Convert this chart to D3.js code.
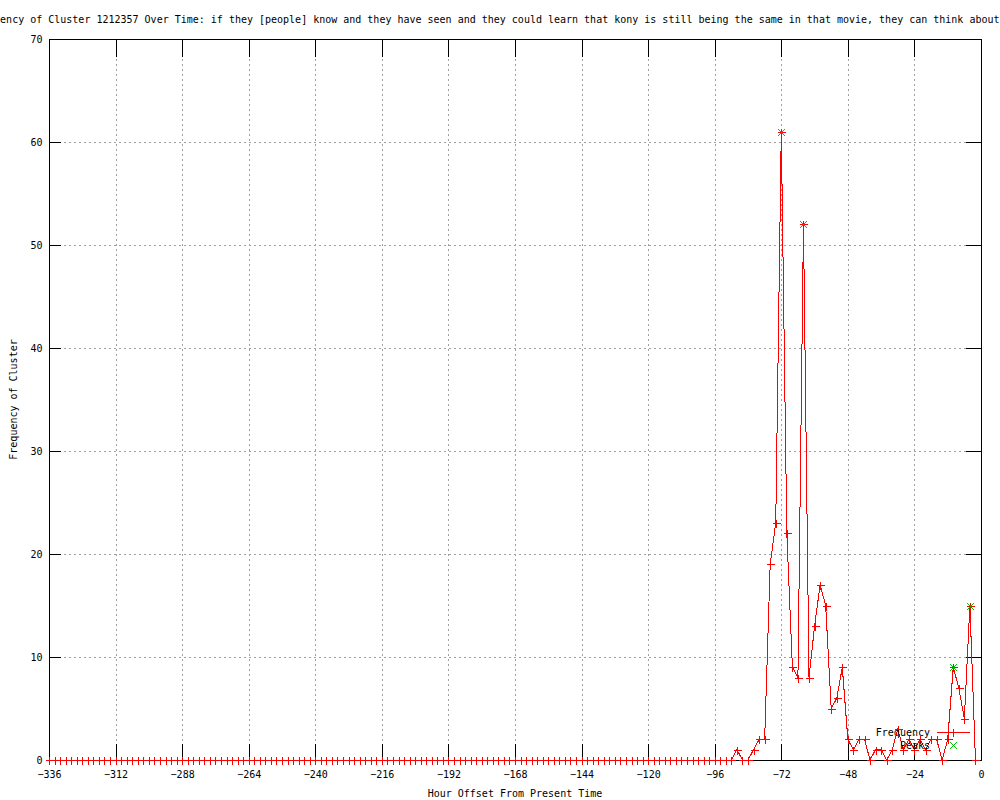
<!DOCTYPE html>
<html>
<head>
<meta charset="utf-8">
<script src="https://cdn.jsdelivr.net/npm/d3@7"></script>
<style>
  body { margin: 0; background: #fff; }
  svg { display: block; }
  text { font-family: "DejaVu Sans Mono", "Liberation Mono", monospace; font-size: 10px; fill: #000; }
</style>
</head>
<body>
<div id="chart"></div>
<script>
const titleText = "Frequency of Cluster 1212357 Over Time: if they [people] know and they have seen and they could learn that kony is still being the same in that movie, they can think about";

// counts every 2 hours, from -336 up to -2
const freqValues = [
  0,0,0,0,0,0,0,0,0,0,0,0,0,0,0,0,0,0,0,0,
  0,0,0,0,0,0,0,0,0,0,0,0,0,0,0,0,0,0,0,0,
  0,0,0,0,0,0,0,0,0,0,0,0,0,0,0,0,0,0,0,0,
  0,0,0,0,0,0,0,0,0,0,0,0,0,0,0,0,0,0,0,0,
  0,0,0,0,0,0,0,0,0,0,0,0,0,0,0,0,0,0,0,0,
  0,0,0,0,0,0,0,0,0,0,0,0,0,0,0,0,0,0,0,0,
  0,0,0,0,
  1,0,0,1,2,2,19,23,61,22,9,8,52,8,13,17,15,5,6,9,
  2,1,2,2,0,1,1,0,1,3,1,2,1,2,1,2,2,0,2,9,
  7,4,15,0
];
const hours = d3.range(-336, 0, 2);

const peakHours = [-72, -64, -10, -4];
const peakValues = [61, 52, 9, 15];

const xTicks = [-336, -312, -288, -264, -240, -216, -192, -168, -144, -120, -96, -72, -48, -24, 0];
const yTicks = [0, 10, 20, 30, 40, 50, 60, 70];

const W = 1000, H = 800;
const mLeft = 49, mRight = 981, mTop = 39, mBottom = 760;

const svg = d3.select('#chart').append('svg')
  .attr('width', W)
  .attr('height', H);

const x = d3.scaleLinear().domain([-336, 0]).range([mLeft, mRight]);
const y = d3.scaleLinear().domain([0, 70]).range([mBottom, mTop]);

// grid
const grid = svg.append('g')
  .attr('stroke', '#a0a0a0')
  .attr('stroke-dasharray', '2,3')
  .attr('shape-rendering', 'crispEdges');
grid.selectAll('line.gx')
  .data(xTicks.filter(d => d > -336 && d < 0))
  .enter().append('line')
  .attr('x1', d => Math.round(x(d)) + 0.5).attr('x2', d => Math.round(x(d)) + 0.5)
  .attr('y1', mTop).attr('y2', mBottom);
grid.selectAll('line.gy')
  .data(yTicks.filter(d => d > 0 && d < 70))
  .enter().append('line')
  .attr('y1', d => Math.round(y(d)) + 0.5).attr('y2', d => Math.round(y(d)) + 0.5)
  .attr('x1', mLeft).attr('x2', mRight);

// axes with gnuplot-like inward ticks on all sides
const xAxisB = d3.axisBottom(x).tickValues(xTicks).tickSizeInner(-17).tickSizeOuter(0).tickPadding(10).tickFormat(d3.format('d'));
const xAxisT = d3.axisTop(x).tickValues(xTicks).tickSizeInner(-17).tickSizeOuter(0).tickFormat('');
const yAxisL = d3.axisLeft(y).tickValues(yTicks).tickSizeInner(-11).tickSizeOuter(0).tickPadding(7).tickFormat(d3.format('d'));
const yAxisR = d3.axisRight(y).tickValues(yTicks).tickSizeInner(-16).tickSizeOuter(0).tickFormat('');

function styleAxis(g) {
  g.attr('shape-rendering', 'crispEdges');
  g.select('.domain').remove();
  g.selectAll('.tick line').attr('stroke', '#000');
  g.selectAll('.tick text').attr('fill', '#000')
    .style('font-family', '"DejaVu Sans Mono", monospace').style('font-size', '10px');
}

svg.append('g').attr('transform', `translate(0,${mBottom + 0.5})`).call(xAxisB).call(styleAxis);
svg.append('g').attr('transform', `translate(0,${mTop + 0.5})`).call(xAxisT).call(styleAxis);
svg.append('g').attr('transform', `translate(${mLeft + 0.5},0)`).call(yAxisL).call(styleAxis);
svg.append('g').attr('transform', `translate(${mRight + 0.5},0)`).call(yAxisR).call(styleAxis);

// border
svg.append('rect')
  .attr('x', mLeft + 0.5).attr('y', mTop + 0.5)
  .attr('width', mRight - mLeft).attr('height', mBottom - mTop)
  .attr('fill', 'none').attr('stroke', '#000')
  .attr('shape-rendering', 'crispEdges');

// frequency line
const red = '#ff0000';
const green = '#00c000';
const pts = hours.map((h, i) => [h, freqValues[i]]);

svg.append('path')
  .datum(pts)
  .attr('fill', 'none')
  .attr('stroke', red)
  .attr('stroke-width', 1)
  .attr('shape-rendering', 'crispEdges')
  .attr('d', d3.line().x(d => x(d[0])).y(d => y(d[1])));

const plus = 'M-4,0H4M0,-4V4';
const cross = 'M-3.5,-3.5L3.5,3.5M-3.5,3.5L3.5,-3.5';

svg.append('g').attr('shape-rendering', 'crispEdges').selectAll('path')
  .data(pts)
  .enter().append('path')
  .attr('transform', d => `translate(${Math.round(x(d[0])) + 0.5},${Math.round(y(d[1])) + 0.5})`)
  .attr('d', plus)
  .attr('stroke', red)
  .attr('fill', 'none');

// peaks
svg.append('g').attr('shape-rendering', 'crispEdges').selectAll('path')
  .data(peakHours.map((h, i) => [h, peakValues[i]]))
  .enter().append('path')
  .attr('transform', d => `translate(${Math.round(x(d[0])) + 0.5},${Math.round(y(d[1])) + 0.5})`)
  .attr('d', cross)
  .attr('stroke', green)
  .attr('fill', 'none');

// legend
const lg = svg.append('g').attr('shape-rendering', 'crispEdges');
lg.append('text').attr('x', 930).attr('y', 736).attr('text-anchor', 'end').text('Frequency');
lg.append('line').attr('x1', 937).attr('x2', 970).attr('y1', 732.5).attr('y2', 732.5).attr('stroke', red);
lg.append('path').attr('transform', 'translate(953.5,732.5)').attr('d', plus).attr('stroke', red);
lg.append('text').attr('x', 930).attr('y', 749).attr('text-anchor', 'end').text('Peaks');
lg.append('path').attr('transform', 'translate(953.5,745.5)').attr('d', cross).attr('stroke', green);

// titles
svg.append('text').attr('x', -30).attr('y', 23).text(titleText);
svg.append('text').attr('x', (mLeft + mRight) / 2).attr('y', 797).attr('text-anchor', 'middle')
  .text('Hour Offset From Present Time');
svg.append('text')
  .attr('transform', `translate(17,${(mTop + mBottom) / 2}) rotate(-90)`)
  .attr('text-anchor', 'middle')
  .text('Frequency of Cluster');
</script>
</body>
</html>
